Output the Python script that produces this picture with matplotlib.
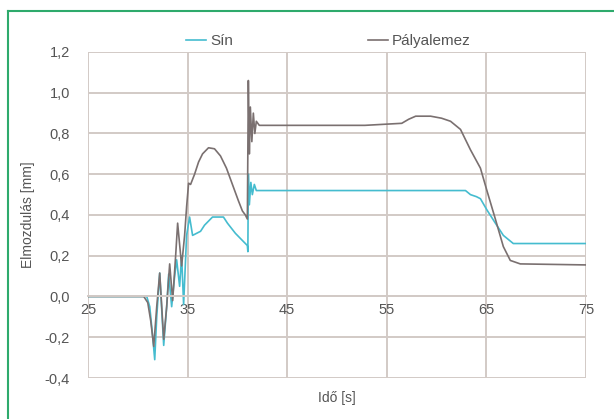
import matplotlib
matplotlib.use("Agg")
import matplotlib.pyplot as plt
from matplotlib.lines import Line2D
from matplotlib.ticker import FuncFormatter

plt.rcParams['font.family'] = ['Liberation Sans', 'DejaVu Sans']

# Pályalemez (gray)
t_pal = [25, 30.6, 31.0, 31.3, 31.6, 31.9, 32.2, 32.6, 32.9, 33.2, 33.5, 33.8, 34.0,
         34.4, 34.7, 34.9, 35.1, 35.3, 35.7, 36.1, 36.5, 37.1, 37.7, 38.3, 38.9, 39.5,
         40.1, 40.5, 40.8, 41.0, 41.1, 41.2, 41.3, 41.45, 41.6, 41.75, 41.9, 42.2, 52.8,
         56.5, 57.2, 57.9, 59.4, 60.5, 61.4, 62.4, 63.4, 64.4, 65.05, 65.9, 66.7, 67.4,
         68.4, 75]
v_pal = [0, 0, -0.03, -0.12, -0.245, -0.05, 0.115, -0.21, -0.05, 0.16, -0.02, 0.2, 0.36,
         0.15, 0.3, 0.44, 0.556, 0.55, 0.6, 0.66, 0.7, 0.73, 0.725, 0.69, 0.63, 0.55,
         0.47, 0.42, 0.4, 0.38, 1.06, 0.7, 0.93, 0.76, 0.9, 0.8, 0.86, 0.84, 0.84,
         0.85, 0.87, 0.885, 0.885, 0.875, 0.86, 0.82, 0.72, 0.63, 0.52, 0.38, 0.245, 0.177,
         0.16, 0.155]

# Sín (cyan)
t_sin = [25, 30.9, 31.2, 31.5, 31.7, 31.9, 32.2, 32.6, 32.9, 33.1, 33.4, 33.7, 33.9,
         34.2, 34.4, 34.6, 34.9, 35.2, 35.5, 35.9, 36.3, 36.7, 37.1, 37.5, 38.6, 39.0,
         39.8, 40.4, 41.0, 41.05, 41.1, 41.2, 41.35, 41.5, 41.7, 41.9, 42.2, 55, 62.9,
         63.4, 64.0, 64.4, 65.05, 65.9, 66.7, 67.7, 75]
v_sin = [0, 0, -0.05, -0.2, -0.31, -0.1, 0.115, -0.24, -0.05, 0.11, -0.05, 0.1, 0.18,
         0.05, 0.2, -0.04, 0.3, 0.39, 0.3, 0.31, 0.32, 0.35, 0.37, 0.39, 0.39, 0.36,
         0.31, 0.28, 0.25, 0.22, 0.6, 0.45, 0.56, 0.5, 0.55, 0.52, 0.52, 0.52, 0.52,
         0.5, 0.49, 0.48, 0.425, 0.36, 0.30, 0.26, 0.26]

x_ticks = [25, 35, 45, 55, 65, 75]
y_ticks = [-0.4, -0.2, 0.0, 0.2, 0.4, 0.6, 0.8, 1.0, 1.2]

grid_col = '#d2cac6'
text_col = '#555555'

fig = plt.figure(figsize=(6.14, 4.19), dpi=100)
ax = fig.add_axes([88/614, 1-378/419, 498/614, 326/419])

ax.plot(t_sin, v_sin, color='#45bccf', lw=1.2, label='Sín')
ax.plot(t_pal, v_pal, color='#7a7070', lw=1.2, label='Pályalemez')

ax.set_xlim(25, 75)
ax.set_ylim(-0.4, 1.2)
ax.set_xticks(x_ticks)
ax.set_yticks(y_ticks)
ax.yaxis.set_major_formatter(FuncFormatter(lambda v, p: f"{v:.1f}".replace('.', ',').replace('-0,0', '0,0')))
ax.grid(True, color=grid_col, lw=1.4)
ax.set_axisbelow(True)
for s in ['top', 'right', 'left']:
    ax.spines[s].set_visible(False)
ax.spines['bottom'].set_position(('data', 0))
ax.spines['bottom'].set_color(grid_col)
ax.spines['bottom'].set_linewidth(1.4)
ax.tick_params(axis='both', length=0, labelsize=10.5, labelcolor=text_col)
ax.tick_params(axis='y', pad=13)
ax.tick_params(axis='x', pad=5)

ax.set_ylabel('Elmozdulás [mm]', fontsize=10, color=text_col, labelpad=7)
ax.set_xlabel('Idő [s]', fontsize=10, color=text_col, labelpad=0)
ax.xaxis.set_label_coords(0.5, -0.04)

fig.legend(loc='center left', bbox_to_anchor=(186/614, 1-41/419), ncol=2, frameon=False,
           fontsize=11, labelcolor=text_col, handlelength=1.3, handletextpad=0.3,
           columnspacing=8.8, borderaxespad=0, borderpad=0)

green = '#2eaa6c'
fig.add_artist(Line2D([8/614, 1], [1-11/419, 1-11/419], color=green, lw=1.5))
fig.add_artist(Line2D([8/614, 8/614], [0, 1-11/419], color=green, lw=1.5))

fig.savefig('out.png', dpi=100)
